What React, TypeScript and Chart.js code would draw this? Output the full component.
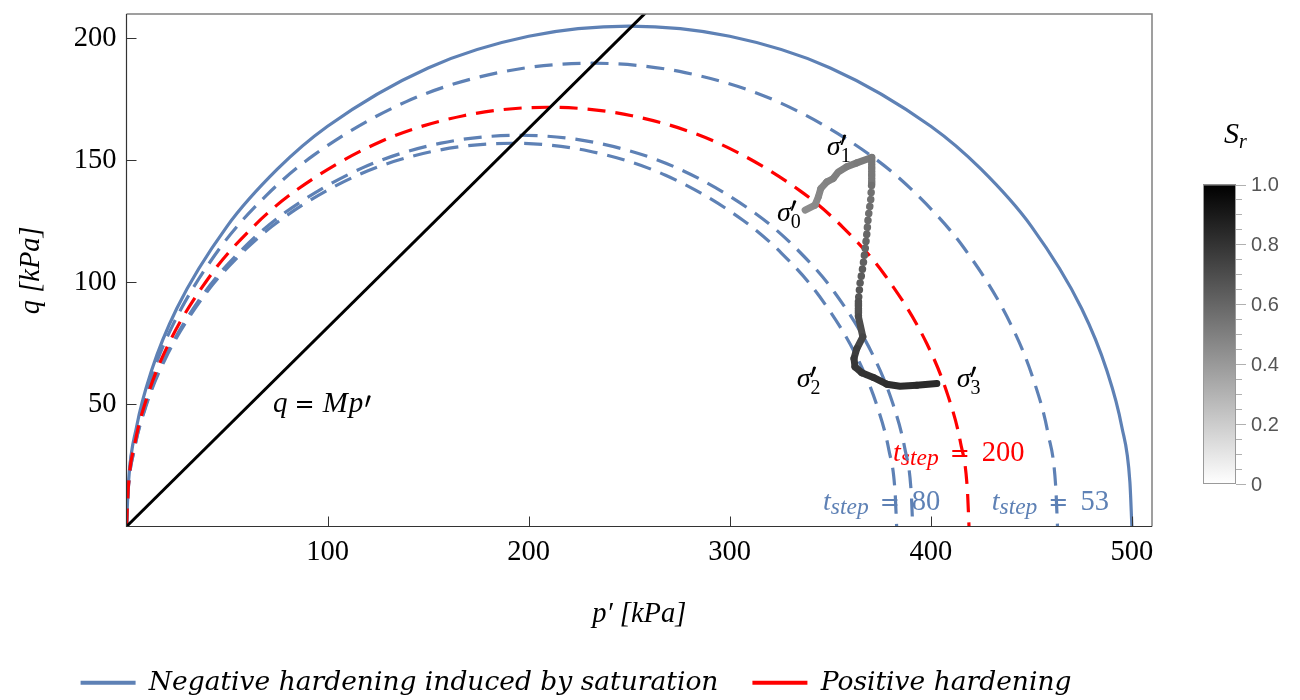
import React, { useEffect, useRef } from 'react';
import { Chart, registerables } from 'chart.js';

Chart.register(...registerables);

const BLUE = '#5E81B5';
const RED = '#FF0000';

// Yield surfaces (p' [kPa], q [kPa])
const curveOuterP = [0, 1, 5, 12.5, 25, 50, 75, 100, 150, 200, 250, 300, 350, 400, 425, 450, 475, 487.5, 495, 499, 500];
const curveOuterQ = [0, 18.33, 40.8, 64.0, 89.34, 123.0, 146.41, 164.0, 187.9, 200.86, 205.0, 200.86, 187.9, 164.0, 146.41, 123.0, 89.34, 64.0, 40.8, 18.33, 0];

const curve53P = [0, 0.93, 4.63, 11.58, 23.15, 46.3, 69.45, 92.6, 138.9, 185.2, 231.5, 277.8, 324.1, 370.4, 393.55, 416.7, 439.85, 451.43, 458.37, 462.07, 463];
const curve53Q = [0, 16.97, 37.78, 59.26, 82.73, 113.9, 135.58, 151.86, 174.0, 186.0, 189.83, 186.0, 174.0, 151.86, 135.58, 113.9, 82.73, 59.26, 37.78, 16.97, 0];

const curve200P = [0, 0.84, 4.19, 10.48, 20.95, 41.9, 62.85, 83.8, 125.7, 167.6, 209.5, 251.4, 293.3, 335.2, 356.15, 377.1, 398.05, 408.53, 414.81, 418.16, 419];
const curve200Q = [0, 15.36, 34.19, 53.63, 74.87, 103.07, 122.69, 137.43, 157.46, 168.32, 171.79, 168.32, 157.46, 137.43, 122.69, 103.07, 74.87, 53.63, 34.19, 15.36, 0];

const curve80aP = [0, 0.78, 3.91, 9.78, 19.55, 39.1, 58.65, 78.2, 117.3, 156.4, 195.5, 234.6, 273.7, 312.8, 332.35, 351.9, 371.45, 381.23, 387.09, 390.22, 391];
const curve80aQ = [0, 14.33, 31.9, 50.05, 69.86, 96.19, 114.49, 128.25, 146.94, 157.07, 160.31, 157.07, 146.94, 128.25, 114.49, 96.19, 69.86, 50.05, 31.9, 14.33, 0];

const curve80bP = [0, 0.77, 3.83, 9.58, 19.15, 38.3, 57.45, 76.6, 114.9, 153.2, 191.5, 229.8, 268.1, 306.4, 325.55, 344.7, 363.85, 373.43, 379.17, 382.23, 383];
const curve80bQ = [0, 14.04, 31.25, 49.02, 68.43, 94.22, 112.15, 125.62, 143.93, 153.86, 157.03, 153.86, 143.93, 125.62, 112.15, 94.22, 68.43, 49.02, 31.25, 14.04, 0];

// Critical state line q = M p'
const mLineP = [0, 260];
const mLineQ = [0, 212];

// Stress path with degree of saturation S_r
const pathP = [337.5, 342.4, 344.1, 345.3, 348.3, 351.5, 354.0, 358.2, 363.2, 370.6, 370.6, 370.1, 368.9, 368.2, 367.3, 366.2, 364.8, 364.0, 364.0, 366.2, 363.2, 361.8, 362.3, 365.7, 371.4, 378.1, 384.7, 393.0, 403.0];
const pathQ = [129.6, 131.7, 135.1, 138.5, 141.2, 142.6, 145.3, 147.4, 149.0, 151.2, 140.6, 133.7, 126.9, 120.1, 113.2, 106.4, 99.6, 92.7, 85.9, 77.7, 72.9, 68.9, 65.4, 63.0, 61.1, 58.3, 57.5, 57.9, 58.6];
const pathSr = [0.45, 0.46, 0.47, 0.48, 0.49, 0.5, 0.5, 0.51, 0.52, 0.53, 0.56, 0.57, 0.58, 0.6, 0.62, 0.64, 0.66, 0.68, 0.7, 0.73, 0.76, 0.78, 0.79, 0.8, 0.81, 0.82, 0.82, 0.83, 0.83];
const DOT_FIRST = 9;
const DOT_LAST = 17;

// Axis ticks
const xTicks = [100, 200, 300, 400, 500];
const yTicks = [50, 100, 150, 200];
const srTicks = [0, 0.2, 0.4, 0.6, 0.8, 1.0];
const srTickLabels = ['0', '0.2', '0.4', '0.6', '0.8', '1.0'];

// Annotations (anchor = left end of text, baseline)
const sigmaSubs = ['0', '1', '2', '3'];
const sigmaLabelP = [323.5, 348.3, 333.3, 412.9];
const sigmaLabelQ = [125.3, 152.2, 57.2, 57.2];
const tStepValues = ['200', '80', '53'];
const tStepP = [381.2, 346.4, 430.3];
const tStepQ = [27.0, 6.7, 6.7];
const tStepColors = [RED, BLUE, BLUE];
const mLabelP = 72.9;
const mLabelQ = 47.0;

const SERIF = '"Liberation Serif", "DejaVu Serif", serif';
const IT = (s: number) => `italic ${s}px ${SERIF}`;
const RM = (s: number) => `${s}px ${SERIF}`;
const EQ = '24px "DejaVu Sans", sans-serif';

const grayFor = (sr: number) => {
  const v = Math.round(255 * (1 - sr));
  return `rgb(${v},${v},${v})`;
};

const pts = (P: number[], Q: number[]) => P.map((p, i) => ({ x: p, y: Q[i] }));

type Part = { text: string; font: string; dx?: number; dy?: number; keep?: boolean; prime?: [number, number] };
function drawPrime(ctx: CanvasRenderingContext2D, x: number, y: number, lo: number, hi: number) {
  ctx.beginPath();
  ctx.moveTo(x, y - lo);
  ctx.lineTo(x + 1.6, y - lo);
  ctx.lineTo(x + 5.6, y - hi + 0.5);
  ctx.quadraticCurveTo(x + 4.2, y - hi - 1.2, x + 2.6, y - hi);
  ctx.closePath();
  ctx.fill();
}
function drawSeq(ctx: CanvasRenderingContext2D, x: number, y: number, color: string, parts: Part[]) {
  ctx.fillStyle = color;
  ctx.textBaseline = 'alphabetic';
  ctx.textAlign = 'left';
  for (const p of parts) {
    if (p.prime) {
      drawPrime(ctx, x + (p.dx || 0), y, p.prime[0], p.prime[1]);
      if (!p.keep) x += 7 + (p.dx || 0);
      continue;
    }
    ctx.font = p.font;
    ctx.fillText(p.text, x + (p.dx || 0), y + (p.dy || 0));
    if (!p.keep) x += ctx.measureText(p.text).width + (p.dx || 0);
  }
  return x;
}

const annotPlugin = {
  id: 'annot',
  beforeDatasetsDraw(chart: any) {
    const { ctx, scales } = chart;
    const xs = scales.x, ys = scales.y;
    ctx.save();
    tStepValues.forEach((val, i) => {
      drawSeq(ctx, xs.getPixelForValue(tStepP[i]), ys.getPixelForValue(tStepQ[i]), tStepColors[i], [
        { text: 't', font: IT(28) },
        { text: 'step', font: IT(23.5), dy: 4 },
        { text: '=', font: EQ, dx: 11 },
        { text: val, font: RM(28.5), dx: 12 },
      ]);
    });
    ctx.restore();
  },
  afterDatasetsDraw(chart: any) {
    const { ctx, scales } = chart;
    const xs = scales.x, ys = scales.y;
    ctx.save();
    sigmaSubs.forEach((s, i) => {
      drawSeq(ctx, xs.getPixelForValue(sigmaLabelP[i]), ys.getPixelForValue(sigmaLabelQ[i]), '#000', [
        { text: 'σ', font: IT(28) },
        { text: '′', font: '', dx: 0, keep: true, prime: [10, 20] },
        { text: s, font: RM(20), dy: 7 },
      ]);
    });
    drawSeq(ctx, xs.getPixelForValue(mLabelP), ys.getPixelForValue(mLabelQ), '#000', [
      { text: 'q', font: IT(29) },
      { text: '=', font: EQ, dx: 7 },
      { text: 'M', font: IT(30), dx: 8 },
      { text: 'p', font: IT(29), dx: 1 },
      { text: '′', font: '', dx: 2, prime: [5, 16] },
    ]);
    ctx.restore();
  },
  afterDraw(chart: any) {
    const { ctx, chartArea, scales } = chart;
    const { left, right, top, bottom } = chartArea;
    ctx.save();
    // frame
    ctx.lineWidth = 1.5;
    ctx.strokeStyle = '#808080';
    ctx.beginPath();
    ctx.moveTo(left, top); ctx.lineTo(right, top); ctx.lineTo(right, bottom);
    ctx.stroke();
    ctx.lineWidth = 1.2;
    ctx.strokeStyle = '#333';
    ctx.beginPath();
    ctx.moveTo(left, top); ctx.lineTo(left, bottom); ctx.lineTo(right, bottom);
    ctx.stroke();
    // inward ticks
    ctx.lineWidth = 1;
    ctx.strokeStyle = '#333';
    ctx.beginPath();
    xTicks.forEach((v) => {
      const px = Math.round(scales.x.getPixelForValue(v)) + 0.5;
      ctx.moveTo(px, bottom); ctx.lineTo(px, bottom - 10);
    });
    yTicks.forEach((v) => {
      const py = Math.round(scales.y.getPixelForValue(v)) + 0.5;
      ctx.moveTo(left, py); ctx.lineTo(left + 10, py);
    });
    ctx.stroke();

    // colour bar for S_r
    const cbL = right + 51, cbR = right + 84, cbT = 184.5, cbB = 484;
    const g = ctx.createLinearGradient(0, cbT, 0, cbB);
    g.addColorStop(0, '#000');
    g.addColorStop(1, '#fff');
    ctx.fillStyle = g;
    ctx.fillRect(cbL, cbT, cbR - cbL, cbB - cbT);
    ctx.strokeStyle = '#9a9a9a';
    ctx.lineWidth = 1;
    ctx.strokeRect(cbL + 0.5, cbT + 0.5, cbR - cbL - 1, cbB - cbT - 1);
    const srY = (v: number) => cbB - v * (cbB - cbT);
    ctx.strokeStyle = '#b0b0b0';
    ctx.beginPath();
    for (let k = 0; k <= 20; k++) {
      const v = k / 20;
      const yy = Math.round(srY(v)) + 0.5;
      const major = k % 4 === 0;
      ctx.moveTo(cbR, yy); ctx.lineTo(cbR + (major ? 10 : 6), yy);
    }
    ctx.stroke();
    ctx.fillStyle = '#555';
    ctx.font = '20px "Liberation Sans", Arial, sans-serif';
    ctx.textAlign = 'left';
    ctx.textBaseline = 'middle';
    srTicks.forEach((v, i) => {
      ctx.fillText(srTickLabels[i], cbR + 15, srY(v) + 1);
    });
    drawSeq(ctx, right + 72, 143, '#000', [
      { text: 'S', font: IT(30) },
      { text: 'r', font: IT(20), dy: 5 },
    ]);
    ctx.restore();
  },
};

export default function App() {
  const ref = useRef<HTMLCanvasElement | null>(null);
  useEffect(() => {
    document.body.style.margin = '0';
    const canvas = ref.current as HTMLCanvasElement;
    const curve = (label: string, P: number[], Q: number[], color: string, dash: number[]) => ({
      label,
      data: pts(P, Q),
      showLine: true,
      borderColor: color,
      backgroundColor: color,
      borderWidth: 3.2,
      borderDash: dash,
      pointRadius: 0,
      cubicInterpolationMode: 'monotone',
      fill: false,
    });
    const isDot = (i: number) => i >= DOT_FIRST && i <= DOT_LAST;
    const chart = new Chart(canvas, {
      type: 'scatter',
      data: {
        datasets: [
          {
            label: 'Stress path',
            data: pts(pathP, pathQ),
            showLine: true,
            borderWidth: 7,
            borderColor: '#666',
            pointRadius: 0,
            borderCapStyle: 'round',
            borderJoinStyle: 'round',
            segment: {
              borderColor: (c: any) => grayFor(pathSr[c.p0DataIndex]),
              borderWidth: (c: any) => (isDot(c.p0DataIndex) ? 7.5 : undefined),
              borderDash: (c: any) => (isDot(c.p0DataIndex) ? [0.01, 7] : undefined),
              borderDashOffset: (c: any) => {
                if (!isDot(c.p0DataIndex)) return undefined;
                const el = c.chart.getDatasetMeta(0).data;
                let L = 0;
                for (let i = DOT_FIRST; i < c.p0DataIndex; i++) {
                  L += Math.hypot(el[i + 1].x - el[i].x, el[i + 1].y - el[i].y);
                }
                return L;
              },
            },
          } as any,
          {
            label: 'q = Mp′',
            data: pts(mLineP, mLineQ),
            showLine: true,
            borderColor: '#000',
            borderWidth: 3,
            pointRadius: 0,
            clip: 0,
          } as any,
          curve('Positive hardening', curve200P, curve200Q, RED, [18, 10]) as any,
          curve('Negative hardening induced by saturation', curveOuterP, curveOuterQ, BLUE, []) as any,
          curve('t_step = 53', curve53P, curve53Q, BLUE, [18, 10]) as any,
          curve('t_step = 80', curve80aP, curve80aQ, BLUE, [18, 10]) as any,
          curve('t_step = 80 (b)', curve80bP, curve80bQ, BLUE, [18, 10]) as any,
        ],
      },
      options: {
        responsive: false,
        animation: false,
        events: [],
        devicePixelRatio: 1,
        layout: { padding: { top: 14, right: 148, bottom: -6, left: 0 } },
        scales: {
          x: {
            type: 'linear',
            min: 0,
            max: 510,
            afterBuildTicks: (s: any) => { s.ticks = xTicks.map((v) => ({ value: v })); },
            afterFit: (s: any) => { s.height = 109; s.paddingLeft = 0; s.paddingRight = 0; },
            grid: { display: false, drawTicks: false },
            border: { display: false },
            ticks: { color: '#000', padding: 9, maxRotation: 0, autoSkip: false, font: { family: SERIF, size: 28.5 } },
            title: { display: true, text: 'p′ [kPa]', color: '#000', font: { family: SERIF, size: 28.5, style: 'italic' }, padding: { top: 0, bottom: 4 } },
          },
          y: {
            type: 'linear',
            min: 0,
            max: 210,
            afterBuildTicks: (s: any) => { s.ticks = yTicks.map((v) => ({ value: v })); },
            afterFit: (s: any) => { s.width = 126.5; s.paddingTop = 0; s.paddingBottom = 0; },
            grid: { display: false, drawTicks: false },
            border: { display: false },
            ticks: { color: '#000', padding: 10, font: { family: SERIF, size: 28.5 } },
            title: { display: true, text: 'q [kPa]', color: '#000', font: { family: SERIF, size: 28.5, style: 'italic' }, padding: { top: 14, bottom: 0 } },
          },
        },
        plugins: {
          tooltip: { enabled: false },
          legend: {
            position: 'bottom',
            labels: {
              boxWidth: 55,
              boxHeight: 4,
              padding: 34,
              color: '#000',
              font: { family: '"DejaVu Serif", serif', size: 26.5, style: 'italic' },
              generateLabels: () => [
                { text: 'Negative hardening induced by saturation', fillStyle: BLUE, strokeStyle: BLUE, lineWidth: 0, hidden: false, datasetIndex: 3 },
                { text: 'Positive hardening', fillStyle: RED, strokeStyle: RED, lineWidth: 0, hidden: false, datasetIndex: 2 },
              ],
            },
          },
        },
      } as any,
      plugins: [annotPlugin],
    });
    return () => chart.destroy();
  }, []);
  return (
    <div style={{ width: 1300, height: 700 }}>
      <canvas ref={ref} width={1300} height={700} style={{ display: 'block' }} />
    </div>
  );
}
